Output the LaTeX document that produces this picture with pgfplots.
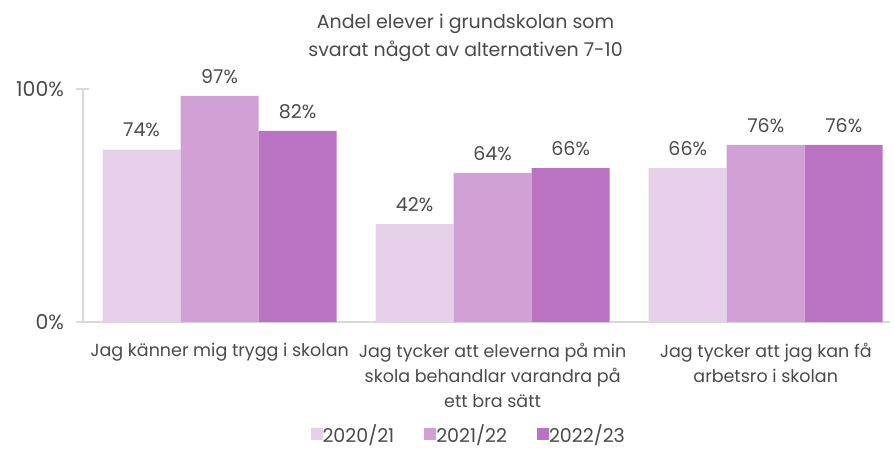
\documentclass[border=0pt]{standalone}
\usepackage{pgfplots}
\pgfplotsset{compat=1.18}
\usepackage{fontspec}
\setmainfont{Poppins}
\definecolor{cA}{HTML}{E7D0E9}
\definecolor{cB}{HTML}{D1A1D6}
\definecolor{cC}{HTML}{BA73C2}
\definecolor{axgray}{HTML}{D9D9D9}
\definecolor{txt}{HTML}{4A4A4A}
\begin{document}
\begin{tikzpicture}[x=1pt,y=1pt]
\useasboundingbox (-83,-128) rectangle (811,322);
\begin{axis}[
  at={(0,0)}, anchor=south west,
  scale only axis, width=807pt, height=233pt,
  /pgf/number format/assume math mode=true,
  font=\fontsize{17}{19}\selectfont,
  ybar=0pt, bar width=78pt,
  xmin=-0.5, xmax=2.455, ymin=0, ymax=100,
  axis x line=bottom, axis y line=left,
  axis line style={axgray, line width=1.2pt, -},
  xtick=data,
  xticklabels={Jag känner mig trygg i skolan,
    {Jag tycker att eleverna på min\\skola behandlar varandra på\\ett bra sätt},
    {Jag tycker att jag kan få\\arbetsro i skolan}},
  x tick label style={align=center, text=txt, font=\fontsize{17.5}{25}\selectfont, anchor=north, yshift=-11pt},
  major x tick style={draw=none},
  ytick={0,100}, yticklabels={0\%,100\%},
  y tick label style={text=txt, font=\fontsize{20.5}{22}\selectfont, xshift=-9pt},
  major tick length=13pt, tick align=center,
  major y tick style={axgray, line width=1.2pt},
  title={Andel elever i grundskolan som\\svarat något av alternativen 7-10},
  title style={align=center, text=txt, font=\fontsize{19}{28}\selectfont, at={(0.474,1)}, anchor=south, yshift=18pt},
  nodes near coords={\pgfmathprintnumber{\pgfplotspointmeta}\%},
  every node near coord/.append style={text=txt, font=\fontsize{19}{21}\selectfont, yshift=9pt},
  clip=false,
  legend columns=3,
  legend style={draw=none, inner sep=1pt, at={(0.478,-0.48)}, anchor=center, font=\fontsize{19}{21}\selectfont, text=txt,
    /tikz/every even column/.append style={column sep=28pt},
    /tikz/every odd column/.append style={column sep=-2pt}},
  legend image code/.code={\fill[#1] (0pt,-6pt) rectangle (12pt,6pt);},
]
\addplot[fill=cA, draw=none] coordinates {(0,74) (1,42) (2,66)};
\addplot[fill=cB, draw=none] coordinates {(0,97) (1,64) (2,76)};
\addplot[fill=cC, draw=none] coordinates {(0,82) (1,66) (2,76)};
\legend{2020/21,2021/22,2022/23}
\end{axis}
\end{tikzpicture}
\end{document}
